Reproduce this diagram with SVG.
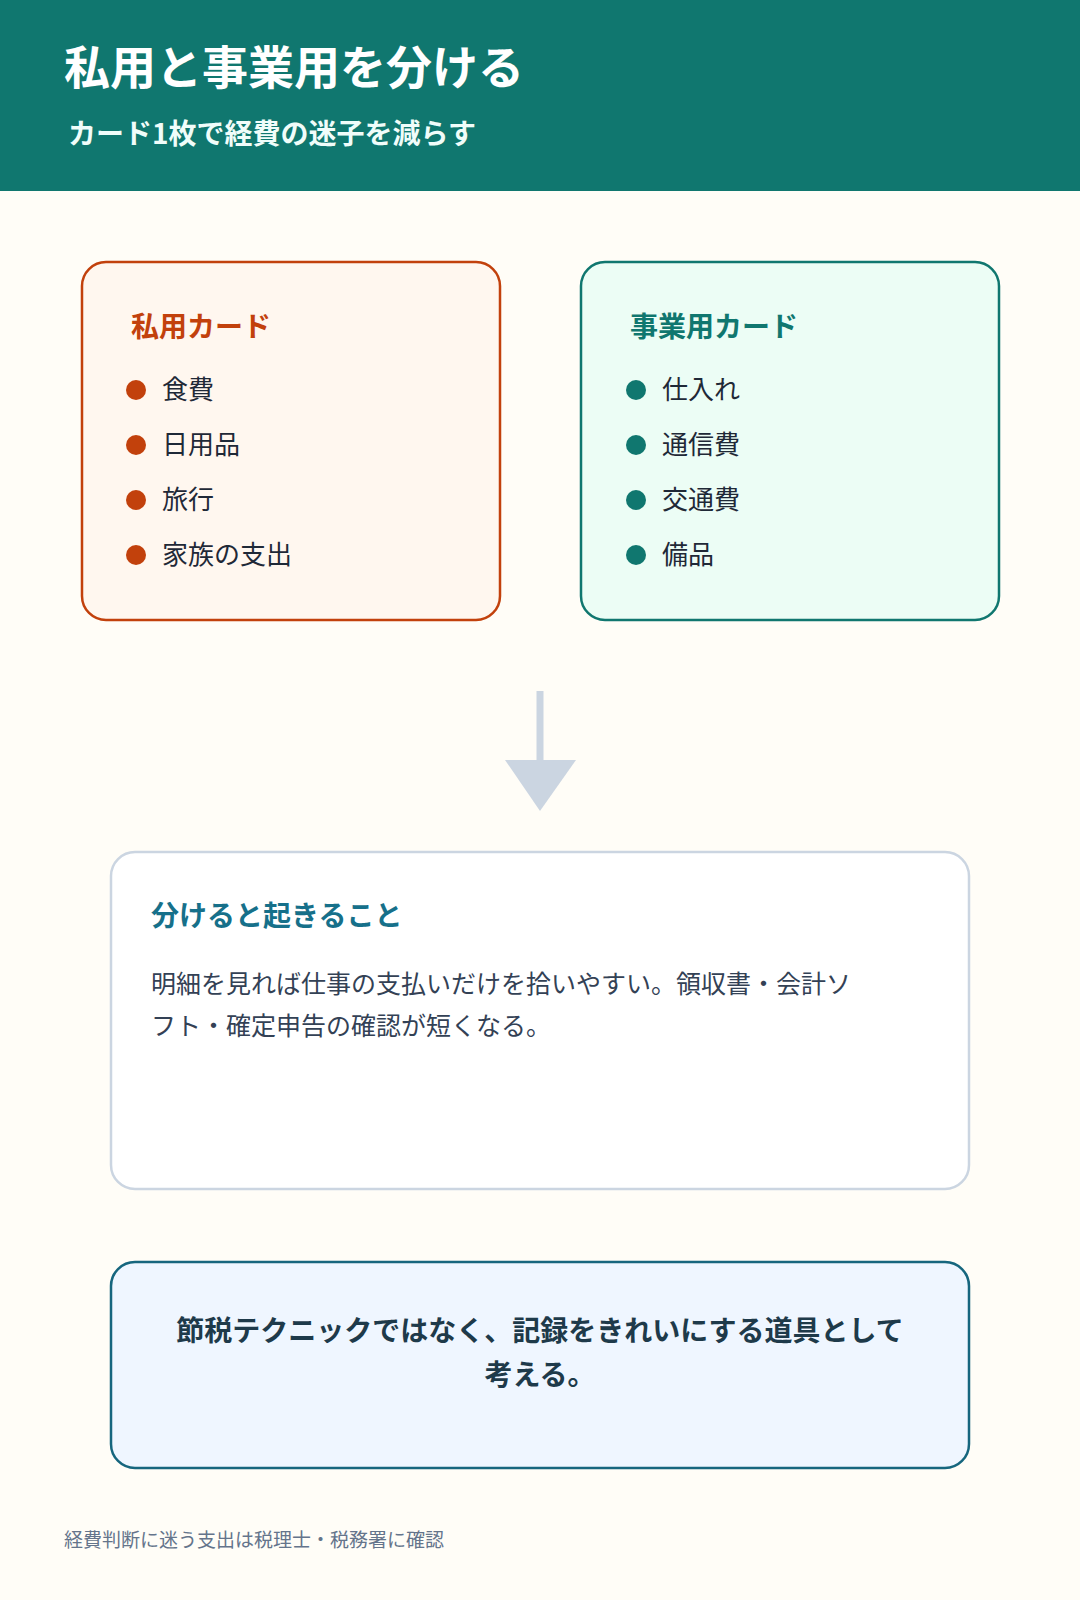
<svg xmlns="http://www.w3.org/2000/svg" width="1080" height="1600" viewBox="0 0 1080 1600">
<style>
text{font-family:"Noto Sans CJK JP","Noto Sans",sans-serif}
.h{font-weight:700;font-size:28px}
.li{font-size:26px;fill:#1f2937}
.b{font-size:25px;fill:#334155}
</style>
<rect width="1080" height="1600" fill="#fffdf7"/>
<g id="header">
<rect width="1080" height="191" fill="#10776f"/>
<text x="64" y="84" font-size="46" font-weight="700" fill="#fff">私用と事業用を分ける</text>
<text x="68" y="144" font-size="28" font-weight="700" fill="#f0fdfa">カード1枚で経費の迷子を減らす</text>
</g>
<g id="private">
<rect x="82" y="262" width="418" height="358" rx="24" fill="#fff7ef" stroke="#c2410c" stroke-width="2.5"/>
<text x="131" y="337" class="h" fill="#c2410c">私用カード</text>
<g fill="#c2410c"><circle cx="136" cy="390" r="10"/><circle cx="136" cy="445" r="10"/><circle cx="136" cy="500" r="10"/><circle cx="136" cy="555" r="10"/></g>
<text x="162" y="399" class="li">食費</text>
<text x="162" y="454" class="li">日用品</text>
<text x="162" y="509" class="li">旅行</text>
<text x="162" y="564" class="li">家族の支出</text>
</g>
<g id="business">
<rect x="581" y="262" width="418" height="358" rx="24" fill="#ecfdf5" stroke="#10776f" stroke-width="2.5"/>
<text x="630" y="337" class="h" fill="#10776f">事業用カード</text>
<g fill="#10776f"><circle cx="636" cy="390" r="10"/><circle cx="636" cy="445" r="10"/><circle cx="636" cy="500" r="10"/><circle cx="636" cy="555" r="10"/></g>
<text x="662" y="399" class="li">仕入れ</text>
<text x="662" y="454" class="li">通信費</text>
<text x="662" y="509" class="li">交通費</text>
<text x="662" y="564" class="li">備品</text>
</g>
<g id="connectors">
<line x1="540" y1="691" x2="540" y2="762" stroke="#cbd5e1" stroke-width="7"/>
<polygon points="505,760 576,760 540,811" fill="#cbd5e1"/>
</g>
<g id="effect">
<rect x="111" y="852" width="858" height="337" rx="24" fill="#fff" stroke="#cbd5e1" stroke-width="2.5"/>
<text x="151" y="926" class="h" fill="#16708a">分けると起きること</text>
<text x="151" y="993" class="b">明細を見れば仕事の支払いだけを拾いやすい。領収書・会計ソ</text>
<text x="151" y="1035" class="b">フト・確定申告の確認が短くなる。</text>
</g>
<g id="note">
<rect x="111" y="1262" width="858" height="206" rx="24" fill="#eff6ff" stroke="#16667e" stroke-width="2.5"/>
<text x="540" y="1341" class="h" fill="#1e3a4a" text-anchor="middle">節税テクニックではなく、記録をきれいにする道具として</text>
<text x="540" y="1385" class="h" fill="#1e3a4a" text-anchor="middle">考える。</text>
</g>
<text x="64" y="1547" font-size="19" fill="#64748b">経費判断に迷う支出は税理士・税務署に確認</text>
</svg>
